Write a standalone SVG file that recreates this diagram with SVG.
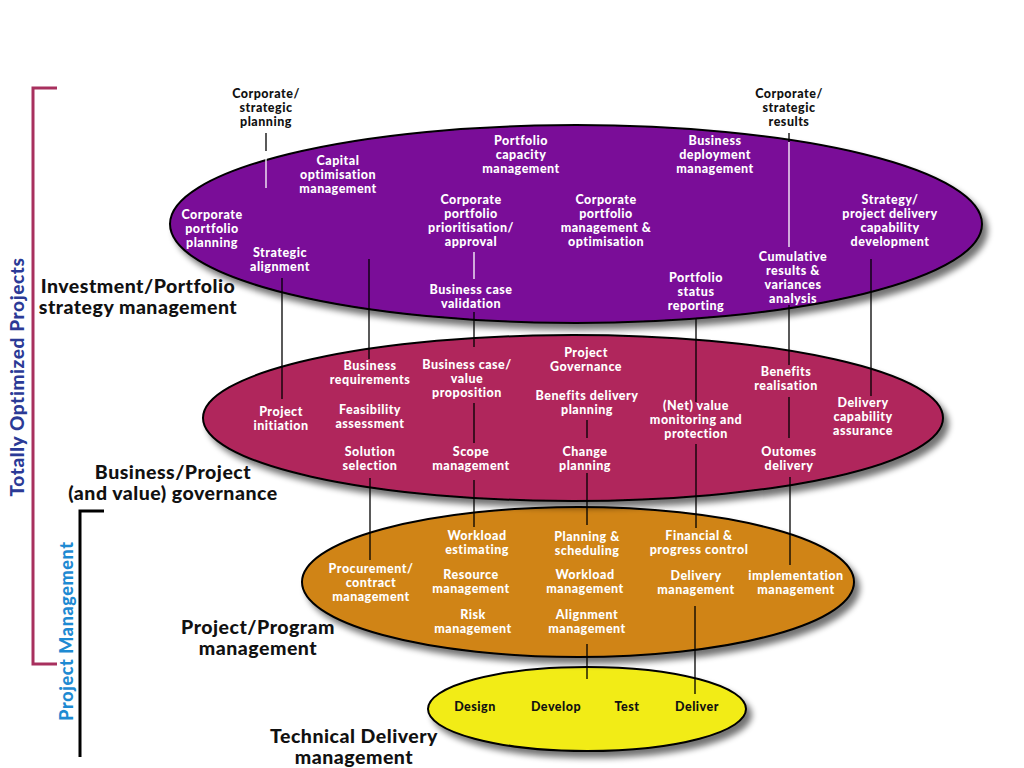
<svg xmlns="http://www.w3.org/2000/svg" width="1024" height="768" viewBox="0 0 1024 768">
<style>
.w{font-family:Lato,"Liberation Sans",sans-serif;font-weight:900;font-size:12.5px;letter-spacing:0.5px;fill:#fff;text-anchor:middle}
.b{font-family:Lato,"Liberation Sans",sans-serif;font-weight:900;font-size:12.5px;letter-spacing:0.5px;fill:#111;text-anchor:middle}
.big{font-family:Lato,"Liberation Sans",sans-serif;font-weight:900;font-size:19.5px;letter-spacing:0.5px;fill:#111;text-anchor:middle}
.ell{stroke:#000;stroke-width:2;filter:url(#sh)}
.cb{stroke:#000;stroke-width:1.3;fill:none}
.cw{stroke:#fff;stroke-width:1.3;fill:none}
</style>
<defs>
<filter id="sh" x="-10%" y="-20%" width="125%" height="150%">
<feGaussianBlur in="SourceAlpha" stdDeviation="3"/>
<feOffset dx="5" dy="6" result="o"/>
<feComponentTransfer><feFuncA type="linear" slope="0.55"/></feComponentTransfer>
<feMerge><feMergeNode/><feMergeNode in="SourceGraphic"/></feMerge>
</filter>
</defs>
<rect width="1024" height="768" fill="#fff"/>
<g id="bracket-top">
<polyline points="57,88 33,88 33,664 57,664" fill="none" stroke="#A8305E" stroke-width="3"/>
<text transform="translate(24,377) rotate(-90)" font-family="Lato,'Liberation Sans',sans-serif" font-weight="900" font-size="19" letter-spacing="0.6" fill="#2B3A96" text-anchor="middle">Totally Optimized Projects</text>
</g>
<g id="bracket-pm">
<polyline points="104,511 80,511 80,757" fill="none" stroke="#000" stroke-width="3"/>
<text transform="translate(73,631) rotate(-90)" font-family="Lato,'Liberation Sans',sans-serif" font-weight="900" font-size="18" letter-spacing="0.6" fill="#1E8AD2" text-anchor="middle">Project Management</text>
</g>
<g id="layer-yellow">
<ellipse class="ell" cx="587" cy="709" rx="159" ry="42" fill="#F2EC18"/>
<text class="b" x="475" y="711">Design</text>
<text class="b" x="556" y="711">Develop</text>
<text class="b" x="627" y="711">Test</text>
<text class="b" x="697" y="711">Deliver</text>
</g>
<g id="layer-orange">
<ellipse class="ell" cx="578" cy="582" rx="276" ry="75" fill="#D08418"/>
<text class="w" x="371" y="573">Procurement/<tspan x="371" dy="14">contract</tspan><tspan x="371" dy="14">management</tspan></text>
<text class="w" x="477" y="540">Workload<tspan x="477" dy="14">estimating</tspan></text>
<text class="w" x="471" y="579">Resource<tspan x="471" dy="14">management</tspan></text>
<text class="w" x="473" y="619">Risk<tspan x="473" dy="14">management</tspan></text>
<text class="w" x="587" y="541">Planning &amp;<tspan x="587" dy="14">scheduling</tspan></text>
<text class="w" x="585" y="579">Workload<tspan x="585" dy="14">management</tspan></text>
<text class="w" x="587" y="619">Alignment<tspan x="587" dy="14">management</tspan></text>
<text class="w" x="699" y="540">Financial &amp;<tspan x="699" dy="14">progress control</tspan></text>
<text class="w" x="696" y="580">Delivery<tspan x="696" dy="14">management</tspan></text>
<text class="w" x="796" y="580">implementation<tspan x="796" dy="14">management</tspan></text>
</g>
<g id="layer-magenta">
<ellipse class="ell" cx="573" cy="418" rx="370" ry="83" fill="#B0285C"/>
<text class="w" x="281" y="416">Project<tspan x="281" dy="14">initiation</tspan></text>
<text class="w" x="370" y="370">Business<tspan x="370" dy="14">requirements</tspan></text>
<text class="w" x="370" y="414">Feasibility<tspan x="370" dy="14">assessment</tspan></text>
<text class="w" x="370" y="456">Solution<tspan x="370" dy="14">selection</tspan></text>
<text class="w" x="467" y="369">Business case/<tspan x="467" dy="14">value</tspan><tspan x="467" dy="14">proposition</tspan></text>
<text class="w" x="471" y="456">Scope<tspan x="471" dy="14">management</tspan></text>
<text class="w" x="586" y="357">Project<tspan x="586" dy="14">Governance</tspan></text>
<text class="w" x="587" y="400">Benefits delivery<tspan x="587" dy="14">planning</tspan></text>
<text class="w" x="585" y="456">Change<tspan x="585" dy="14">planning</tspan></text>
<text class="w" x="696" y="410">(Net) value<tspan x="696" dy="14">monitoring and</tspan><tspan x="696" dy="14">protection</tspan></text>
<text class="w" x="786" y="376">Benefits<tspan x="786" dy="14">realisation</tspan></text>
<text class="w" x="789" y="456">Outomes<tspan x="789" dy="14">delivery</tspan></text>
<text class="w" x="863" y="407">Delivery<tspan x="863" dy="14">capability</tspan><tspan x="863" dy="14">assurance</tspan></text>
</g>
<g id="layer-purple">
<ellipse class="ell" cx="576" cy="224" rx="406" ry="99" fill="#7A1098"/>
<text class="w" x="338" y="165">Capital<tspan x="338" dy="14">optimisation</tspan><tspan x="338" dy="14">management</tspan></text>
<text class="w" x="212" y="219">Corporate<tspan x="212" dy="14">portfolio</tspan><tspan x="212" dy="14">planning</tspan></text>
<text class="w" x="280" y="257">Strategic<tspan x="280" dy="14">alignment</tspan></text>
<text class="w" x="521" y="145">Portfolio<tspan x="521" dy="14">capacity</tspan><tspan x="521" dy="14">management</tspan></text>
<text class="w" x="471" y="204">Corporate<tspan x="471" dy="14">portfolio</tspan><tspan x="471" dy="14">prioritisation/</tspan><tspan x="471" dy="14">approval</tspan></text>
<text class="w" x="606" y="204">Corporate<tspan x="606" dy="14">portfolio</tspan><tspan x="606" dy="14">management &amp;</tspan><tspan x="606" dy="14">optimisation</tspan></text>
<text class="w" x="471" y="294">Business case<tspan x="471" dy="14">validation</tspan></text>
<text class="w" x="715" y="145">Business<tspan x="715" dy="14">deployment</tspan><tspan x="715" dy="14">management</tspan></text>
<text class="w" x="890" y="204">Strategy/<tspan x="890" dy="14">project delivery</tspan><tspan x="890" dy="14">capability</tspan><tspan x="890" dy="14">development</tspan></text>
<text class="w" x="793" y="261">Cumulative<tspan x="793" dy="14">results &amp;</tspan><tspan x="793" dy="14">variances</tspan><tspan x="793" dy="14">analysis</tspan></text>
<text class="w" x="696" y="282">Portfolio<tspan x="696" dy="14">status</tspan><tspan x="696" dy="14">reporting</tspan></text>
</g>
<g id="outside-labels">
<text class="b" x="266" y="98">Corporate/<tspan x="266" dy="14">strategic</tspan><tspan x="266" dy="14">planning</tspan></text>
<text class="b" x="789" y="98">Corporate/<tspan x="789" dy="14">strategic</tspan><tspan x="789" dy="14">results</tspan></text>
<text class="big" x="138" y="293">Investment/Portfolio<tspan x="138" dy="21">strategy management</tspan></text>
<text class="big" x="173" y="479">Business/Project<tspan x="173" dy="21">(and value) governance</tspan></text>
<text class="big" x="258" y="634">Project/Program<tspan x="258" dy="21">management</tspan></text>
<text class="big" x="354" y="743">Technical Delivery<tspan x="354" dy="21">management</tspan></text>
</g>
<g id="connectors">
<line class="cb" x1="266" y1="133" x2="266" y2="151"/>
<line class="cw" x1="266" y1="151" x2="266" y2="188"/>
<line class="cb" x1="789" y1="133" x2="789" y2="142"/>
<line class="cw" x1="789" y1="142" x2="789" y2="247"/>
<line class="cw" x1="474" y1="252" x2="474" y2="279"/>
<line class="cb" x1="282" y1="278" x2="282" y2="399"/>
<line class="cb" x1="369" y1="259" x2="369" y2="359"/>
<line class="cb" x1="474" y1="312" x2="474" y2="347"/>
<line class="cb" x1="696" y1="318" x2="696" y2="402"/>
<line class="cb" x1="696" y1="444" x2="696" y2="528"/>
<line class="cb" x1="789" y1="305" x2="789" y2="365"/>
<line class="cb" x1="789" y1="397" x2="789" y2="438"/>
<line class="cb" x1="790" y1="477" x2="790" y2="565"/>
<line class="cb" x1="871" y1="259" x2="871" y2="396"/>
<line class="cb" x1="474" y1="403" x2="474" y2="443"/>
<line class="cb" x1="474" y1="480" x2="474" y2="527"/>
<line class="cb" x1="587" y1="420" x2="587" y2="438"/>
<line class="cb" x1="587" y1="473" x2="587" y2="525"/>
<line class="cb" x1="370" y1="478" x2="370" y2="560"/>
<line class="cb" x1="587" y1="644" x2="587" y2="679"/>
<line class="cb" x1="695" y1="606" x2="695" y2="694"/>
</g>
</svg>
